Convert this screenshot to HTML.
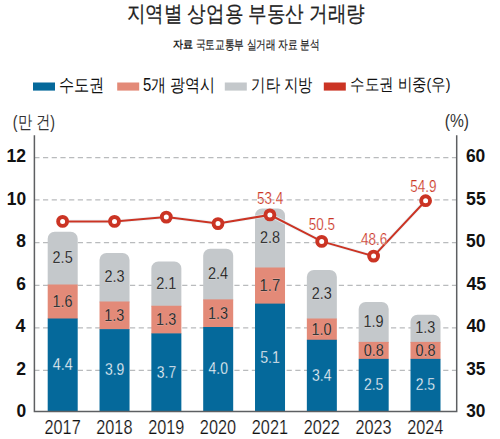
<!DOCTYPE html><html><head><meta charset="utf-8"><style>html,body{margin:0;padding:0;background:#fff;width:500px;height:439px;overflow:hidden}svg{display:block}text{font-family:"Liberation Sans",sans-serif}</style></head><body>
<svg width="500" height="439" viewBox="0 0 500 439">
<rect width="500" height="439" fill="#fff"/>
<text x="126.64" y="21.37" textLength="238.27" lengthAdjust="spacingAndGlyphs" font-size="22.22" fill="#222" stroke="#222" stroke-width="0.25">지역별 상업용 부동산 거래량</text>
<text x="173.15" y="47.50" textLength="20.08" lengthAdjust="spacingAndGlyphs" font-size="10.88" font-weight="bold" fill="#222">자료</text>
<text x="195.78" y="48.58" textLength="123.79" lengthAdjust="spacingAndGlyphs" font-size="12.78" fill="#222" stroke="#222" stroke-width="0.2">국토교통부 실거래 자료 분석</text>
<text x="58.86" y="91.03" textLength="45.54" lengthAdjust="spacingAndGlyphs" font-size="17.90" fill="#111">수도권</text>
<text x="142.94" y="90.93" textLength="72.55" lengthAdjust="spacingAndGlyphs" font-size="17.78" fill="#111">5개 광역시</text>
<text x="251.41" y="91.03" textLength="61.39" lengthAdjust="spacingAndGlyphs" font-size="17.90" fill="#111">기타 지방</text>
<text x="350.32" y="90.15" textLength="100.19" lengthAdjust="spacingAndGlyphs" font-size="16.73" fill="#111">수도권 비중(우)</text>
<text x="12.81" y="127.51" textLength="42.09" lengthAdjust="spacingAndGlyphs" font-size="17.88" fill="#333">(만 건)</text>
<text x="444.73" y="127.26" textLength="24.24" lengthAdjust="spacingAndGlyphs" font-size="19.11" fill="#333">(%)</text>
<rect x="33" y="82.5" width="22" height="8.1" fill="#05699b"/>
<rect x="117.2" y="82.5" width="22" height="8.1" fill="#e38a78"/>
<rect x="224.8" y="82.5" width="22" height="8.1" fill="#c4c8cb"/>
<rect x="323.8" y="82.5" width="22" height="8.1" fill="#cb3424"/>
<line x1="34.3" y1="157.6" x2="456.5" y2="157.6" stroke="#b9bbbd" stroke-width="1.3" stroke-dasharray="5.2 3.5"/>
<line x1="34.3" y1="199.9" x2="456.5" y2="199.9" stroke="#b9bbbd" stroke-width="1.3" stroke-dasharray="5.2 3.5"/>
<line x1="34.3" y1="242.6" x2="456.5" y2="242.6" stroke="#b9bbbd" stroke-width="1.3" stroke-dasharray="5.2 3.5"/>
<line x1="34.3" y1="285.4" x2="456.5" y2="285.4" stroke="#b9bbbd" stroke-width="1.3" stroke-dasharray="5.2 3.5"/>
<line x1="34.3" y1="327.8" x2="456.5" y2="327.8" stroke="#b9bbbd" stroke-width="1.3" stroke-dasharray="5.2 3.5"/>
<line x1="34.3" y1="370.4" x2="456.5" y2="370.4" stroke="#b9bbbd" stroke-width="1.3" stroke-dasharray="5.2 3.5"/>
<path d="M47.70,285.50 L47.70,238.78 A7.0,7.0 0 0 1 54.70,231.78 L70.70,231.78 A7.0,7.0 0 0 1 77.70,238.78 L77.70,285.50 Z" fill="#c4c8cb"/>
<rect x="47.70" y="284.50" width="30.0" height="34.50" fill="#e38a78"/>
<rect x="47.70" y="318.50" width="30.0" height="92.90" fill="#05699b"/>
<path d="M99.53,302.50 L99.53,260.02 A7.0,7.0 0 0 1 106.53,253.03 L122.53,253.03 A7.0,7.0 0 0 1 129.53,260.02 L129.53,302.50 Z" fill="#c4c8cb"/>
<rect x="99.53" y="301.50" width="30.0" height="28.12" fill="#e38a78"/>
<rect x="99.53" y="329.12" width="30.0" height="82.27" fill="#05699b"/>
<path d="M151.36,306.75 L151.36,268.52 A7.0,7.0 0 0 1 158.36,261.52 L174.36,261.52 A7.0,7.0 0 0 1 181.36,268.52 L181.36,306.75 Z" fill="#c4c8cb"/>
<rect x="151.36" y="305.75" width="30.0" height="28.12" fill="#e38a78"/>
<rect x="151.36" y="333.38" width="30.0" height="78.02" fill="#05699b"/>
<path d="M203.19,300.38 L203.19,255.78 A7.0,7.0 0 0 1 210.19,248.78 L226.19,248.78 A7.0,7.0 0 0 1 233.19,255.78 L233.19,300.38 Z" fill="#c4c8cb"/>
<rect x="203.19" y="299.38" width="30.0" height="28.12" fill="#e38a78"/>
<rect x="203.19" y="327.00" width="30.0" height="84.40" fill="#05699b"/>
<path d="M255.02,268.50 L255.02,215.40 A7.0,7.0 0 0 1 262.02,208.40 L278.02,208.40 A7.0,7.0 0 0 1 285.02,215.40 L285.02,268.50 Z" fill="#c4c8cb"/>
<rect x="255.02" y="267.50" width="30.0" height="36.62" fill="#e38a78"/>
<rect x="255.02" y="303.62" width="30.0" height="107.77" fill="#05699b"/>
<path d="M306.85,319.50 L306.85,277.02 A7.0,7.0 0 0 1 313.85,270.02 L329.85,270.02 A7.0,7.0 0 0 1 336.85,277.02 L336.85,319.50 Z" fill="#c4c8cb"/>
<rect x="306.85" y="318.50" width="30.0" height="21.75" fill="#e38a78"/>
<rect x="306.85" y="339.75" width="30.0" height="71.65" fill="#05699b"/>
<path d="M358.68,342.88 L358.68,308.90 A7.0,7.0 0 0 1 365.68,301.90 L381.68,301.90 A7.0,7.0 0 0 1 388.68,308.90 L388.68,342.88 Z" fill="#c4c8cb"/>
<rect x="358.68" y="341.88" width="30.0" height="17.50" fill="#e38a78"/>
<rect x="358.68" y="358.88" width="30.0" height="52.52" fill="#05699b"/>
<path d="M410.51,342.88 L410.51,321.65 A7.0,7.0 0 0 1 417.51,314.65 L433.51,314.65 A7.0,7.0 0 0 1 440.51,321.65 L440.51,342.88 Z" fill="#c4c8cb"/>
<rect x="410.51" y="341.88" width="30.0" height="17.50" fill="#e38a78"/>
<rect x="410.51" y="358.88" width="30.0" height="52.52" fill="#05699b"/>
<path d="M34.4,135.3 V411.4 H456.7 V135.3" fill="none" stroke="#5d5f62" stroke-width="1.5"/>
<polyline points="62.6,221.4 114.5,221.4 166.3,217.1 218.0,223.6 269.9,214.9 321.7,241.4 373.6,256.1 425.6,200.7" fill="none" stroke="#e4f4f8" stroke-opacity="0.6" stroke-width="4"/>
<polyline points="62.6,221.4 114.5,221.4 166.3,217.1 218.0,223.6 269.9,214.9 321.7,241.4 373.6,256.1 425.6,200.7" fill="none" stroke="#cb3424" stroke-width="2"/>
<circle cx="62.6" cy="221.4" r="4.45" fill="#fff" stroke="#cb3424" stroke-width="3.9"/>
<circle cx="114.5" cy="221.4" r="4.45" fill="#fff" stroke="#cb3424" stroke-width="3.9"/>
<circle cx="166.3" cy="217.1" r="4.45" fill="#fff" stroke="#cb3424" stroke-width="3.9"/>
<circle cx="218.0" cy="223.6" r="4.45" fill="#fff" stroke="#cb3424" stroke-width="3.9"/>
<circle cx="269.9" cy="214.9" r="4.45" fill="#fff" stroke="#cb3424" stroke-width="3.9"/>
<circle cx="321.7" cy="241.4" r="4.45" fill="#fff" stroke="#cb3424" stroke-width="3.9"/>
<circle cx="373.6" cy="256.1" r="4.45" fill="#fff" stroke="#cb3424" stroke-width="3.9"/>
<circle cx="425.6" cy="200.7" r="4.45" fill="#fff" stroke="#cb3424" stroke-width="3.9"/>
<text x="52.75" y="370.25" textLength="19.93" lengthAdjust="spacingAndGlyphs" font-size="16.29" fill="#fff" stroke="#05699b" stroke-width="0.3">4.4</text>
<text x="52.45" y="306.90" textLength="20.09" lengthAdjust="spacingAndGlyphs" font-size="16.42" fill="#111" stroke="#fff" stroke-opacity="0.5" stroke-width="0.3">1.6</text>
<text x="52.58" y="263.13" textLength="20.09" lengthAdjust="spacingAndGlyphs" font-size="16.42" fill="#111" stroke="#fff" stroke-opacity="0.5" stroke-width="0.3">2.5</text>
<text x="44.49" y="434.32" textLength="36.22" lengthAdjust="spacingAndGlyphs" font-size="20.25" fill="#111" stroke="#fff" stroke-width="0.22">2017</text>
<text x="104.89" y="375.46" textLength="19.40" lengthAdjust="spacingAndGlyphs" font-size="15.86" fill="#fff" stroke="#05699b" stroke-width="0.3">3.9</text>
<text x="104.28" y="320.71" textLength="20.09" lengthAdjust="spacingAndGlyphs" font-size="16.42" fill="#111" stroke="#fff" stroke-opacity="0.5" stroke-width="0.3">1.3</text>
<text x="104.46" y="282.26" textLength="20.09" lengthAdjust="spacingAndGlyphs" font-size="16.42" fill="#111" stroke="#fff" stroke-opacity="0.5" stroke-width="0.3">2.3</text>
<text x="96.27" y="434.32" textLength="36.22" lengthAdjust="spacingAndGlyphs" font-size="20.25" fill="#111" stroke="#fff" stroke-width="0.22">2018</text>
<text x="156.77" y="377.59" textLength="19.40" lengthAdjust="spacingAndGlyphs" font-size="15.86" fill="#fff" stroke="#05699b" stroke-width="0.3">3.7</text>
<text x="156.11" y="324.96" textLength="20.09" lengthAdjust="spacingAndGlyphs" font-size="16.42" fill="#111" stroke="#fff" stroke-opacity="0.5" stroke-width="0.3">1.3</text>
<text x="156.20" y="288.74" textLength="20.27" lengthAdjust="spacingAndGlyphs" font-size="16.57" fill="#111" stroke="#fff" stroke-opacity="0.5" stroke-width="0.3">2.1</text>
<text x="148.15" y="434.32" textLength="36.22" lengthAdjust="spacingAndGlyphs" font-size="20.25" fill="#111" stroke="#fff" stroke-width="0.22">2019</text>
<text x="208.60" y="374.40" textLength="19.40" lengthAdjust="spacingAndGlyphs" font-size="15.86" fill="#fff" stroke="#05699b" stroke-width="0.3">4.0</text>
<text x="207.94" y="318.58" textLength="20.09" lengthAdjust="spacingAndGlyphs" font-size="16.42" fill="#111" stroke="#fff" stroke-opacity="0.5" stroke-width="0.3">1.3</text>
<text x="207.89" y="279.18" textLength="20.27" lengthAdjust="spacingAndGlyphs" font-size="16.57" fill="#111" stroke="#fff" stroke-opacity="0.5" stroke-width="0.3">2.4</text>
<text x="199.87" y="434.32" textLength="36.22" lengthAdjust="spacingAndGlyphs" font-size="20.25" fill="#111" stroke="#fff" stroke-width="0.22">2020</text>
<text x="260.16" y="362.71" textLength="19.75" lengthAdjust="spacingAndGlyphs" font-size="16.14" fill="#fff" stroke="#05699b" stroke-width="0.3">5.1</text>
<text x="259.53" y="291.06" textLength="20.64" lengthAdjust="spacingAndGlyphs" font-size="16.87" fill="#111" stroke="#fff" stroke-opacity="0.5" stroke-width="0.3">1.7</text>
<text x="259.95" y="242.95" textLength="20.09" lengthAdjust="spacingAndGlyphs" font-size="16.42" fill="#111" stroke="#fff" stroke-opacity="0.5" stroke-width="0.3">2.8</text>
<text x="251.81" y="434.32" textLength="36.22" lengthAdjust="spacingAndGlyphs" font-size="20.25" fill="#111" stroke="#fff" stroke-width="0.22">2021</text>
<text x="312.08" y="380.78" textLength="19.40" lengthAdjust="spacingAndGlyphs" font-size="15.86" fill="#fff" stroke="#05699b" stroke-width="0.3">3.4</text>
<text x="311.55" y="334.52" textLength="20.09" lengthAdjust="spacingAndGlyphs" font-size="16.42" fill="#111" stroke="#fff" stroke-opacity="0.5" stroke-width="0.3">1.0</text>
<text x="311.78" y="299.26" textLength="20.09" lengthAdjust="spacingAndGlyphs" font-size="16.42" fill="#111" stroke="#fff" stroke-opacity="0.5" stroke-width="0.3">2.3</text>
<text x="303.64" y="434.32" textLength="36.22" lengthAdjust="spacingAndGlyphs" font-size="20.25" fill="#111" stroke="#fff" stroke-width="0.22">2022</text>
<text x="363.91" y="390.34" textLength="19.40" lengthAdjust="spacingAndGlyphs" font-size="15.86" fill="#fff" stroke="#05699b" stroke-width="0.3">2.5</text>
<text x="363.70" y="355.77" textLength="20.09" lengthAdjust="spacingAndGlyphs" font-size="16.42" fill="#111" stroke="#fff" stroke-opacity="0.5" stroke-width="0.3">0.8</text>
<text x="363.43" y="326.88" textLength="20.09" lengthAdjust="spacingAndGlyphs" font-size="16.42" fill="#111" stroke="#fff" stroke-opacity="0.5" stroke-width="0.3">1.9</text>
<text x="355.41" y="434.32" textLength="36.22" lengthAdjust="spacingAndGlyphs" font-size="20.25" fill="#111" stroke="#fff" stroke-width="0.22">2023</text>
<text x="415.74" y="390.34" textLength="19.40" lengthAdjust="spacingAndGlyphs" font-size="15.86" fill="#fff" stroke="#05699b" stroke-width="0.3">2.5</text>
<text x="415.53" y="355.77" textLength="20.09" lengthAdjust="spacingAndGlyphs" font-size="16.42" fill="#111" stroke="#fff" stroke-opacity="0.5" stroke-width="0.3">0.8</text>
<text x="415.26" y="333.26" textLength="20.09" lengthAdjust="spacingAndGlyphs" font-size="16.42" fill="#111" stroke="#fff" stroke-opacity="0.5" stroke-width="0.3">1.3</text>
<text x="407.14" y="434.32" textLength="36.22" lengthAdjust="spacingAndGlyphs" font-size="20.25" fill="#111" stroke="#fff" stroke-width="0.22">2024</text>
<text x="6.50" y="162.25" textLength="19.56" lengthAdjust="spacingAndGlyphs" font-size="18.57" font-weight="bold" fill="#111">12</text>
<text x="6.78" y="204.69" textLength="19.38" lengthAdjust="spacingAndGlyphs" font-size="18.41" font-weight="bold" fill="#111">10</text>
<text x="16.25" y="247.25" textLength="9.69" lengthAdjust="spacingAndGlyphs" font-size="18.41" font-weight="bold" fill="#111">8</text>
<text x="16.36" y="289.81" textLength="9.69" lengthAdjust="spacingAndGlyphs" font-size="18.41" font-weight="bold" fill="#111">6</text>
<text x="15.56" y="332.49" textLength="9.96" lengthAdjust="spacingAndGlyphs" font-size="18.91" font-weight="bold" fill="#111">4</text>
<text x="16.28" y="375.05" textLength="9.78" lengthAdjust="spacingAndGlyphs" font-size="18.57" font-weight="bold" fill="#111">2</text>
<text x="16.47" y="417.49" textLength="9.69" lengthAdjust="spacingAndGlyphs" font-size="18.41" font-weight="bold" fill="#111">0</text>
<text x="465.95" y="162.13" textLength="19.38" lengthAdjust="spacingAndGlyphs" font-size="18.41" font-weight="bold" fill="#111">60</text>
<text x="466.05" y="204.69" textLength="19.73" lengthAdjust="spacingAndGlyphs" font-size="18.74" font-weight="bold" fill="#111">55</text>
<text x="466.06" y="247.25" textLength="19.38" lengthAdjust="spacingAndGlyphs" font-size="18.41" font-weight="bold" fill="#111">50</text>
<text x="466.38" y="289.81" textLength="19.73" lengthAdjust="spacingAndGlyphs" font-size="18.74" font-weight="bold" fill="#111">45</text>
<text x="466.38" y="332.37" textLength="19.38" lengthAdjust="spacingAndGlyphs" font-size="18.41" font-weight="bold" fill="#111">40</text>
<text x="466.17" y="374.82" textLength="19.21" lengthAdjust="spacingAndGlyphs" font-size="18.25" font-weight="bold" fill="#111">35</text>
<text x="466.17" y="417.38" textLength="19.21" lengthAdjust="spacingAndGlyphs" font-size="18.25" font-weight="bold" fill="#111">30</text>
<text x="256.98" y="203.95" textLength="26.22" lengthAdjust="spacingAndGlyphs" font-size="16.28" fill="#cb3424" stroke="#fff" stroke-width="0.22">53.4</text>
<text x="308.87" y="229.85" textLength="26.22" lengthAdjust="spacingAndGlyphs" font-size="16.28" fill="#cb3424" stroke="#fff" stroke-width="0.22">50.5</text>
<text x="360.94" y="244.85" textLength="26.22" lengthAdjust="spacingAndGlyphs" font-size="16.28" fill="#cb3424" stroke="#fff" stroke-width="0.22">48.6</text>
<text x="410.31" y="191.85" textLength="26.22" lengthAdjust="spacingAndGlyphs" font-size="16.28" fill="#cb3424" stroke="#fff" stroke-width="0.22">54.9</text>
</svg></body></html>
